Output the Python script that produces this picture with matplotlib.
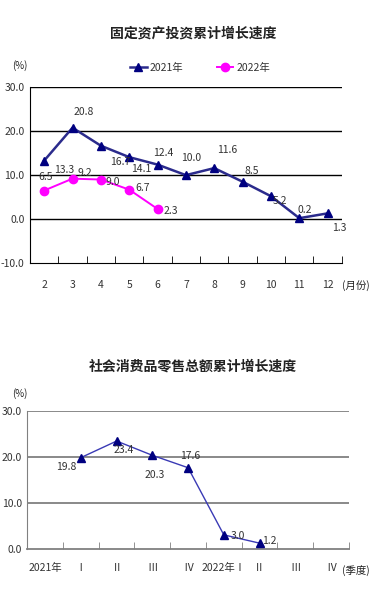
import matplotlib
matplotlib.use("Agg")
import matplotlib.pyplot as plt
from matplotlib.ticker import FixedLocator

plt.rcParams['font.family'] = ['Noto Sans CJK SC', 'DejaVu Sans']

# fixed asset investment, cumulative growth (%)
months = [2, 3, 4, 5, 6, 7, 8, 9, 10, 11, 12]
inv_2021 = [13.3, 20.8, 16.7, 14.1, 12.4, 10.0, 11.6, 8.5, 5.2, 0.2, 1.3]
inv_2022 = [6.5, 9.2, 9.0, 6.7, 2.3]

# retail sales, cumulative growth (%)
quarters = ['2021年', 'Ⅰ', 'Ⅱ', 'Ⅲ', 'Ⅳ', '2022年Ⅰ', 'Ⅱ', 'Ⅲ', 'Ⅳ']
retail_pos = [1, 2, 3, 4, 5, 6]
retail = [19.8, 23.4, 20.3, 17.6, 3.0, 1.2]

navy = '#000080'
txt = '#333333'
lab_fs = 7.5

fig = plt.figure(figsize=(3.92, 6.14), dpi=100)

# ---------- top chart ----------
ax1 = fig.add_axes([0.0765, 0.5717, 0.7955, 0.2861])
ax1.set_xlim(1.5, 12.5)
ax1.set_ylim(-10, 30)
for y in [0, 10, 20, 30]:
    ax1.axhline(y, color='black', lw=1.0, zorder=1)
ax1.plot(months, inv_2021, color='#2b2b8c', lw=1.8, marker='^', ms=6,
         mfc=navy, mec=navy, zorder=3, label='2021年')
ax1.plot(months[:len(inv_2022)], inv_2022, color='#ff00ff', lw=1.4, marker='o', ms=6,
         mfc='#ff00ff', mec='#ff00ff', zorder=3, label='2022年')

# label offsets in pixels (dx right, dy up)
off21 = [(20, -9), (11, 16), (19, -16), (12, -12), (6, 12), (5, 17), (13, 18), (9, 11), (9, -5), (5, 8), (12, -15)]
for m, v, (dx, dy) in zip(months, inv_2021, off21):
    ax1.annotate(f'{v:.1f}', (m, v), xytext=(dx, dy), textcoords='offset pixels',
                 fontsize=lab_fs, color=txt, ha='center', va='center')
off22 = [(1, 14), (12, 6), (12, -2), (13, 2), (13, -2)]
for m, v, (dx, dy) in zip(months, inv_2022, off22):
    ax1.annotate(f'{v:.1f}', (m, v), xytext=(dx, dy), textcoords='offset pixels',
                 fontsize=lab_fs, color=txt, ha='center', va='center')

ax1.set_yticks([-10, 0, 10, 20, 30])
ax1.set_yticklabels(['-10.0', '0.0', '10.0', '20.0', '30.0'], fontsize=lab_fs, color=txt)
ax1.tick_params(axis='y', length=0, pad=4)
ax1.set_xticks(months)
ax1.set_xticklabels([str(m) for m in months], fontsize=lab_fs, color=txt)
ax1.xaxis.set_minor_locator(FixedLocator([m + 0.5 for m in range(1, 13)]))
ax1.tick_params(axis='x', which='major', length=0, pad=12)
ax1.tick_params(axis='x', which='minor', direction='in', length=5, color='black')
for s in ['top', 'right']:
    ax1.spines[s].set_visible(False)
ax1.spines['left'].set_color('black')
ax1.spines['bottom'].set_color('black')
fig.legend(*ax1.get_legend_handles_labels(), loc='center left',
           bbox_to_anchor=(130 / 392, 1 - 68 / 614), bbox_transform=fig.transFigure,
           ncol=2, frameon=False, fontsize=lab_fs, handlelength=1.6, handletextpad=0.3,
           columnspacing=3.2, borderpad=0, borderaxespad=0, labelcolor=txt)

fig.text(0.493, 0.946, '固定资产投资累计增长速度', ha='center', va='center',
         fontsize=10, fontweight='bold', color='#222222')
fig.text(0.03, 0.894, '(%)', ha='left', va='center', fontsize=7, color='#222222')
fig.text(0.872, 0.535, '(月份)', ha='left', va='center', fontsize=lab_fs, color='#222222')

# ---------- bottom chart ----------
ax2 = fig.add_axes([0.0696, 0.1064, 0.8204, 0.2247])
ax2.set_xlim(-0.5, 8.5)
ax2.set_ylim(0, 30)
for y in [10, 20, 30]:
    ax2.axhline(y, color='#808080', lw=1.3, zorder=1)
ax2.plot(retail_pos, retail, color='#3a3ab5', lw=1.0, marker='^', ms=5.5,
         mfc=navy, mec=navy, zorder=3)
off_r = [(-15, -9), (7, -9), (2, -20), (2, 12), (14, -1), (10, 2)]
for p, v, (dx, dy) in zip(retail_pos, retail, off_r):
    ax2.annotate(f'{v:.1f}', (p, v), xytext=(dx, dy), textcoords='offset pixels',
                 fontsize=lab_fs, color=txt, ha='center', va='center')

ax2.set_yticks([0, 10, 20, 30])
ax2.set_yticklabels(['0.0', '10.0', '20.0', '30.0'], fontsize=lab_fs, color=txt)
ax2.tick_params(axis='y', length=0, pad=4)
ax2.set_xticks(range(len(quarters)))
ax2.set_xticklabels(quarters, fontsize=lab_fs, color=txt)
ax2.xaxis.set_minor_locator(FixedLocator([i + 0.5 for i in range(len(quarters))]))
ax2.tick_params(axis='x', which='major', length=0, pad=10)
ax2.tick_params(axis='x', which='minor', direction='in', length=5, color='#808080')
for s in ['top', 'right']:
    ax2.spines[s].set_visible(False)
ax2.spines['left'].set_color('#808080')
ax2.spines['bottom'].set_color('#808080')
ax2.spines['bottom'].set_linewidth(1.3)

fig.text(0.493, 0.403, '社会消费品零售总额累计增长速度', ha='center', va='center',
         fontsize=10, fontweight='bold', color='#222222')
fig.text(0.03, 0.359, '(%)', ha='left', va='center', fontsize=7, color='#222222')
fig.text(0.872, 0.071, '(季度)', ha='left', va='center', fontsize=lab_fs, color='#222222')

fig.savefig('out.png', dpi=100)
